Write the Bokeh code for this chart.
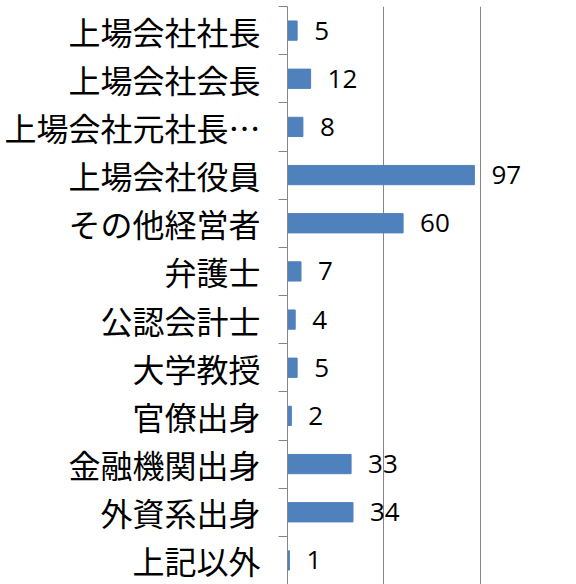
from bokeh.plotting import figure
from bokeh.models import (Range1d, LinearAxis, FixedTicker, ColumnDataSource, Grid)
from bokeh.core.properties import value
from bokeh.embed import file_html
from bokeh.resources import INLINE

categories = ["上場会社社長", "上場会社会長", "上場会社元社長…", "上場会社役員",
              "その他経営者", "弁護士", "公認会計士", "大学教授", "官僚出身",
              "金融機関出身", "外資系出身", "上記以外"]
counts = [5, 12, 8, 97, 60, 7, 4, 5, 2, 33, 34, 1]
grid_ticks = [50, 100, 150]
x_max = 150

BAR = "#4F81BD"
GRAY = "#868686"

n_cat = len(categories)
# category slot centres, first category at the top
ypos = [n_cat - i - 0.5 for i in range(n_cat)]
bounds = list(range(n_cat + 1))

src = ColumnDataSource(dict(y=ypos, n=counts, label=[str(c) for c in counts]))

p = figure(width=576, height=584,
           y_range=Range1d(0, n_cat), x_range=Range1d(0, x_max),
           output_backend="svg", toolbar_location=None,
           x_axis_location=None, y_axis_location=None,
           min_border_left=287, min_border_right=0,
           min_border_top=6, min_border_bottom=0)
p.outline_line_color = None
p.background_fill_color = "white"
p.border_fill_color = "white"

for g in p.grid:
    g.visible = False
grid = Grid(dimension=0, ticker=FixedTicker(ticks=grid_ticks),
            grid_line_color=GRAY, grid_line_width=1)
p.add_layout(grid, "center")

yaxis = LinearAxis(ticker=FixedTicker(ticks=ypos, minor_ticks=bounds),
                   major_label_overrides={y: c for y, c in zip(ypos, categories)},
                   major_tick_line_color=None, major_tick_in=0, major_tick_out=0,
                   minor_tick_line_color=GRAY, minor_tick_in=0, minor_tick_out=9,
                   axis_line_color=GRAY,
                   major_label_text_font="Noto Sans CJK JP",
                   major_label_text_font_size="32px",
                   major_label_text_color="black",
                   major_label_standoff=18)
p.add_layout(yaxis, "left")

p.hbar(y="y", left=0, right="n", height=0.4, source=src,
       fill_color=BAR, line_color=BAR)
p.text(x="n", y="y", text="label", source=src, x_offset=17,
       text_align="left", text_baseline="middle",
       text_font=value("Open Sans"), text_font_size="26px", text_color="black")

open("out.html", "w").write(file_html(p, INLINE))
